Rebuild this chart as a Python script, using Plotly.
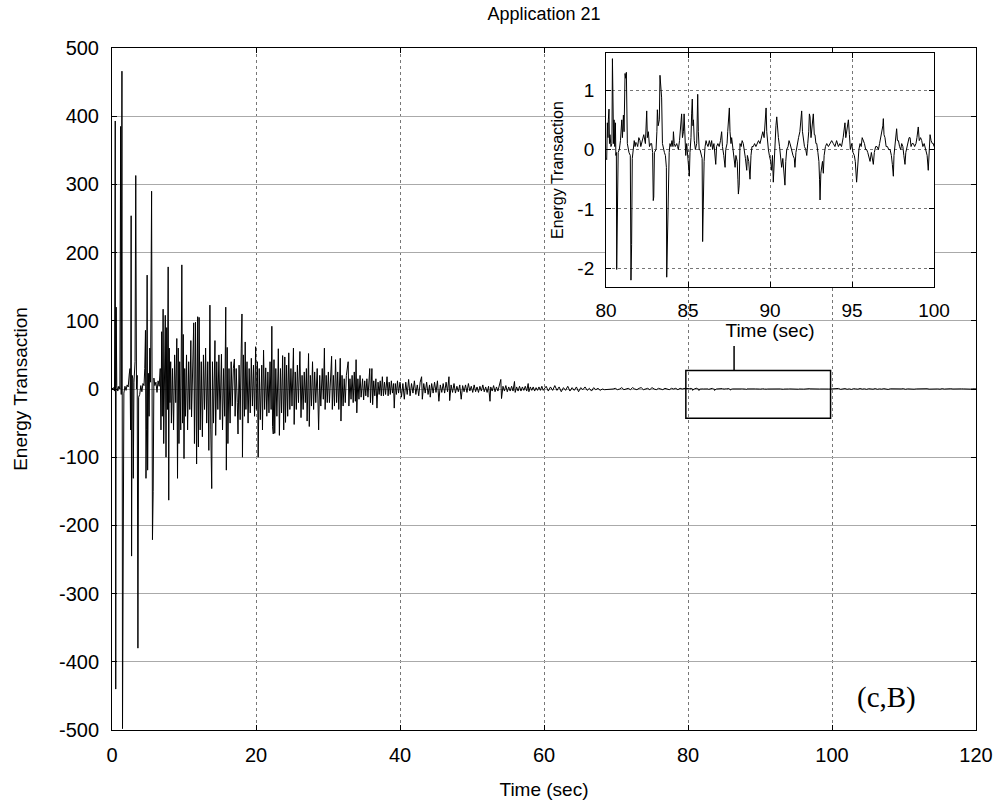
import plotly.graph_objects as go

# ---------------- data ----------------
early_t = [0.00, 0.20, 0.35, 0.45, 0.52, 0.58, 0.66, 0.80, 0.95, 1.10, 1.20, 1.28, 1.38, 1.46, 1.55, 1.65, 1.80, 1.95,
           2.10, 2.25, 2.40, 2.50, 2.58, 2.66, 2.72, 2.80, 2.90, 2.96, 3.05, 3.20, 3.30, 3.40, 3.50, 3.60, 3.70, 3.85,
           4.00, 4.15, 4.30, 4.45, 4.55, 4.65, 4.72, 4.80, 4.88, 4.95, 5.05, 5.15, 5.25, 5.35, 5.50, 5.62, 5.72, 5.82,
           5.95, 6.10, 6.25, 6.40, 6.55, 6.70, 6.80, 6.90, 6.98, 7.10, 7.18, 7.30, 7.40, 7.50, 7.60, 7.70, 7.80, 7.88,
           7.95, 8.05, 8.15, 8.25, 8.40, 8.55, 8.70, 8.85, 9.00, 9.10, 9.20, 9.30, 9.40, 9.55, 9.70, 9.80, 9.90, 10.00,
           10.10, 10.20, 10.35, 10.50, 10.65, 10.80, 10.95, 11.05, 11.20, 11.35, 11.45, 11.60, 11.75, 11.90, 12.00,
           12.10, 12.25, 12.40, 12.55, 12.70, 12.85, 13.00, 13.15, 13.30, 13.45, 13.60, 13.72, 13.85, 13.95, 14.10,
           14.30, 14.40, 14.55, 14.70, 14.85, 15.00, 15.20, 15.35, 15.50, 15.65, 15.80, 15.88, 16.00, 16.10, 16.25,
           16.40, 16.55, 16.70, 16.85, 17.00, 17.10, 17.25, 17.40, 17.50, 17.65, 17.80, 17.95, 18.05, 18.12, 18.25,
           18.40, 18.50, 18.60, 18.75, 18.90, 19.05, 19.20, 19.35, 19.50, 19.65, 19.80, 19.95, 20.05, 20.20, 20.30,
           20.45, 20.60, 20.80, 20.90, 21.05, 21.20, 21.35, 21.50, 21.65, 21.80, 21.95, 22.10, 22.20, 22.30, 22.40,
           22.50, 22.60, 22.75, 22.90, 23.05, 23.10, 23.25, 23.40, 23.55, 23.70, 23.85, 24.00, 24.10, 24.25, 24.40,
           24.55, 24.70, 24.85, 25.00, 25.20, 25.30, 25.45, 25.60, 25.75, 25.90, 26.10, 26.25, 26.40, 26.55, 26.70,
           26.85, 27.00, 27.10, 27.30, 27.40, 27.55, 27.70, 27.85, 28.00, 28.15, 28.30, 28.50, 28.70, 28.85, 29.00,
           29.20, 29.35, 29.50, 29.60, 29.75, 29.90, 30.05, 30.20, 30.35, 30.50, 30.60, 30.75, 30.90, 31.05, 31.20,
           31.35, 31.50, 31.70, 31.80, 31.95, 32.10, 32.25, 32.40, 32.55, 32.80, 32.90, 33.05, 33.20, 33.35, 33.50,
           33.65, 33.80, 33.90, 34.00, 34.15, 34.30, 34.45, 34.60, 34.80, 34.95, 35.10, 35.25, 35.40, 35.55, 35.80,
           35.90, 36.10, 36.20, 36.35, 36.50, 36.65, 36.80, 36.95, 37.10, 37.25, 37.40, 37.55, 37.70, 37.85, 38.00,
           38.20, 38.35, 38.50, 38.65, 38.80, 38.95, 39.10, 39.20, 39.35, 39.50, 39.65, 39.80]
early_v = [0, 2, -3, 393, -440, 120, 5, -3, 4, 0, 385, -8, 466, -498, -12, -6, 4, -2,
           6, 3, 22, 30, -60, 254, -245, 20, 15, -131, 10, 40, 313, 0, 20, -380, -12, -8,
           5, -4, 8, 5, 30, 86, -131, -60, 167, -119, 23, -40, 60, 10, 290, -221, -150, 16,
           5, 10, -5, 12, 4, 30, -60, 84, -40, 117, -80, 60, 108, -100, 90, -30, 179, -163,
           60, -20, 40, -50, 30, -60, 50, -20, 74, -131, 60, -80, 40, -60, 182, -50, 80, -102,
           30, -40, 50, -60, 40, -30, 71, -41, 60, 97, -80, 98, -110, 106, -85,
           105, -60, 40, -70, 50, -30, 60, -50, 40, -90, 123, -60, -146, 40, -50,
           71, -68, 40, -30, 50, -45, 51, -60, 30, -40, 120, -119, 61, -80, 30,
           -50, 40, -25, 30, 44, -40, 30, -20, -66, 35, -45, 60, 110, -100, 50,
           -40, 69, -30, 40, -50, 30, -35, 45, -25, 35, -40, 62, -30, 40, -100,
           30, -45, 35, -60, 57, -30, 31, -40, 25, -35, 40, -30, 92, -55, -66,
           43, -65, 30, -40, 25, 59, -68, 30, -35, 49, -60, 47, -49, 35, -40,
           53, -30, 30, -25, 60, -52, 25, -30, 35, -20, 55, -42, 20, -30, 25,
           -20, 30, -47, 52, -55, 20, -25, 40, -30, 25, -20, 30, -60, 20, -25,
           30, -15, 60, -30, 20, -20, 25, -20, 15, 48, -30, 20, -25, 43, -20,
           25, -30, 45, -47, 20, -25, 15, -20, 20, 40, -25, 15, -15, 20, -20,
           25, -18, 43, -35, 15, -15, 20, -12, 15, -16, 12, -10, 15, -12, 30,
           -20, 30, -23, 12, -10, 15, -28, 10, -8, 12, -10, 18, -10, 10, -8,
           18, -10, 10, -8, 12, -6, 8, -28, 8, -8, 12, -6]

mid_t = [40.00, 40.20, 40.40, 40.60, 40.80, 41.00, 41.20, 41.40, 41.60, 41.80, 42.00, 42.20, 42.40, 42.60, 42.80,
         43.00, 43.10, 43.30, 43.50, 43.70, 43.90, 44.10, 44.20, 44.40, 44.60, 44.80, 45.00, 45.20, 45.40, 45.60,
         45.80, 46.00, 46.20, 46.40, 46.60, 46.80, 46.90, 47.10, 47.30, 47.50, 47.70, 47.90, 48.10, 48.30, 48.50,
         48.70, 48.90, 49.10, 49.30, 49.50, 49.70, 49.90, 50.10, 50.30, 50.50, 50.70, 50.90, 51.10, 51.30, 51.50,
         51.70, 51.90, 52.10, 52.30, 52.50, 52.60, 52.80, 53.00, 53.20, 53.40, 53.60, 53.80, 54.00, 54.10, 54.30,
         54.50, 54.70, 54.90, 55.10, 55.30, 55.50, 55.70, 55.90, 56.00, 56.20, 56.40, 56.60, 56.80, 57.00, 57.20,
         57.40, 57.60, 57.80, 57.90, 58.10, 58.30, 58.50, 58.70, 58.90, 59.10, 59.30, 59.50, 59.70, 59.90,
         60.30, 60.60, 60.90, 61.20, 61.50, 61.80, 62.10, 62.40, 62.70, 63.00, 63.30, 63.60, 63.90, 64.20, 64.50,
         64.80, 65.10, 65.40, 65.70, 66.00, 66.30, 66.60, 66.90, 67.20, 67.50, 67.80, 68.10, 68.40, 68.70, 69.00,
         69.30, 69.60, 69.90, 70.20, 70.50, 70.80, 71.10, 71.40, 71.70, 72.00, 72.30, 72.60, 72.90, 73.20, 73.50,
         73.80, 74.10, 74.40, 74.70, 75.00, 75.30, 75.60, 75.90, 76.20, 76.50, 76.80, 77.10, 77.40, 77.70, 78.00,
         78.30, 78.60, 78.90, 79.20, 79.60]
mid_v = [10, -12, 8, -15, 10, -8, 14, -10, 8, -6, 12, -8, 6, -10, 10,
         18, -15, 8, -6, 10, -8, 6, -12, 8, -6, 10, -5, 12, -18, 6,
         -5, 8, -6, 10, -4, 18, -17, 6, -5, 8, -6, 4, -4, 6, -15,
         5, -4, 6, -5, 8, -3, 4, -5, 6, -4, 3, -5, 4, -3, 6,
         -4, 3, -5, 4, -18, 3, -3, 5, -4, 3, -3, 4, 14, -14, 4,
         -3, 5, -4, 3, -3, 4, -3, 11, -5, 3, -3, 4, -3, 3, -2,
         4, -3, 8, -4, 3, -2, 3, -3, 2, -2, 3, -2, 4, -2,
         4, -3, 3, -2, 5, -2, 3, -4, 2, -2, 4, -3, 2, -2, 3,
         -4, 2, -1, 3, -2, 1, -3, 2, -1, 1, -2, 0, -1, -1, 0,
         -1, 0, 1, -1, 0, 2, -1, 0, 1, -1, 2, 0, -1, 1, 2,
         -1, 0, 1, -1, 2, 0, -1, 1, 0, -1, 1, 0, -1, 1, 0,
         1, -1, 1, 0, 1]

inset_t = [80.00, 80.04, 80.08, 80.12, 80.14, 80.18, 80.21, 80.24, 80.30, 80.36, 80.39, 80.42, 80.46, 80.49, 80.53,
           80.57, 80.60, 80.63, 80.65, 80.68, 80.71, 80.74, 80.81, 80.88, 80.96, 81.00, 81.06, 81.10, 81.16, 81.20,
           81.24, 81.27, 81.30, 81.40, 81.48, 81.52, 81.56, 81.60, 81.64, 81.67, 81.72, 81.77, 81.82, 81.87, 81.93,
           82.00, 82.07, 82.12, 82.20, 82.30, 82.40, 82.45, 82.48, 82.52, 82.58, 82.65, 82.72, 82.78, 82.84, 82.88,
           82.91, 82.95, 83.05, 83.10, 83.13, 83.18, 83.25, 83.29, 83.35, 83.39, 83.44, 83.50, 83.56, 83.62, 83.68,
           83.70, 83.74, 83.80, 83.85, 83.90, 83.96, 84.02, 84.08, 84.11, 84.16, 84.22, 84.31, 84.36, 84.41, 84.48,
           84.55, 84.61, 84.66, 84.72, 84.76, 84.80, 84.86, 84.92, 85.00, 85.08, 85.12, 85.18, 85.22, 85.26, 85.30,
           85.33, 85.38, 85.45, 85.53, 85.56, 85.59, 85.63, 85.68, 85.73, 85.80, 85.86, 85.89, 85.93, 85.98, 86.04,
           86.10, 86.14, 86.22, 86.30, 86.38, 86.44, 86.50, 86.58, 86.64, 86.69, 86.74, 86.82, 86.90, 86.98, 87.05,
           87.10, 87.18, 87.26, 87.30, 87.38, 87.42, 87.46, 87.52, 87.56, 87.62, 87.66, 87.72, 87.80, 87.87, 87.92,
           88.00, 88.04, 88.07, 88.12, 88.17, 88.24, 88.30, 88.37, 88.44, 88.50, 88.58, 88.62, 88.70, 88.78, 88.84,
           88.90, 88.98, 89.06, 89.14, 89.22, 89.30, 89.39, 89.48, 89.56, 89.64, 89.70, 89.76, 89.80, 89.86, 89.90,
           89.96, 90.04, 90.10, 90.15, 90.20, 90.26, 90.32, 90.36, 90.41, 90.46, 90.51, 90.58, 90.64, 90.71, 90.78,
           90.85, 90.91, 90.96, 91.02, 91.10, 91.16, 91.22, 91.30, 91.40, 91.48, 91.52, 91.58, 91.66, 91.74, 91.82,
           91.88, 91.93, 91.98, 92.03, 92.10, 92.18, 92.24, 92.30, 92.36, 92.40, 92.44, 92.50, 92.56, 92.60, 92.64,
           92.70, 92.74, 92.80, 92.85, 92.92, 92.98, 93.02, 93.05, 93.10, 93.15, 93.20, 93.25, 93.30, 93.38, 93.46,
           93.56, 93.66, 93.76, 93.86, 93.96, 94.06, 94.17, 94.26, 94.36, 94.46, 94.52, 94.57, 94.62, 94.70, 94.78,
           94.84, 94.90, 94.98, 95.06, 95.14, 95.20, 95.28, 95.34, 95.42, 95.49, 95.56, 95.62, 95.69, 95.76, 95.83,
           95.89, 95.96, 96.03, 96.10, 96.18, 96.24, 96.30, 96.36, 96.44, 96.52, 96.61, 96.68, 96.76, 96.82, 96.88,
           96.91, 96.95, 97.01, 97.08, 97.16, 97.24, 97.32, 97.40, 97.46, 97.52, 97.56, 97.62, 97.67, 97.72, 97.77,
           97.83, 97.90, 97.97, 98.03, 98.10, 98.16, 98.23, 98.28, 98.35, 98.42, 98.48, 98.54, 98.60, 98.66, 98.74,
           98.82, 98.90, 98.96, 99.00, 99.04, 99.10, 99.18, 99.25, 99.32, 99.40, 99.45, 99.52, 99.58, 99.65, 99.70,
           99.76, 99.82, 99.90, 99.96, 100.00]
inset_v = [-0.15, -0.17, 0.45, 0.2, 0.5, 0.68, 0.1, 0.25, 0.05, 0.1, 1.53, 0.3, 0.1, 0.5, 0.05,
           0.45, -0.1, -0.05, -2.02, -1.2, -0.9, -0.05, 0.0, 0.15, 0.5, 0.2, 0.58, 0.3, 1.28, 1.2,
           1.3, 0.4, 0.1, -0.05, -0.1, -2.2, -1.6, -0.15, -0.05, 0.05, 0.15, 0.05, 0.12, 0.1, 0.05,
           0.2, 0.15, 0.05, 0.15, 0.25, 0.1, 0.4, 0.65, 0.2, 0.3, 0.05, 0.1, 0.1, -0.05, -0.86,
           -0.8, -0.05, 0.0, 0.3, 0.67, 0.4, 0.5, 1.25, 0.95, 0.87, 0.1, 0.0, -0.05, -0.1, -0.3,
           -2.15, -1.5, -0.35, -0.05, 0.1, 0.05, 0.15, 0.05, 0.3, 0.1, 0.05, 0.1, 0.05, 0.0, 0.15,
           0.35, 0.6, 0.2, 0.3, 0.6, 0.1, -0.1, 0.1, -0.15, -0.45, -0.05, 0.2, 0.6, 0.85, 0.4,
           0.5, 0.15, 0.0, 0.1, 0.4, 0.93, 0.3, 0.0, 0.0, -0.1, -0.15, -1.55, -0.9, -0.2, 0.05,
           0.15, 0.1, 0.05, 0.15, 0.05, 0.15, 0.0, 0.1, -0.1, -0.25, 0.05, 0.1, 0.05, 0.15, 0.3,
           0.05, -0.1, -0.3, 0.0, 0.1, 0.3, 0.55, 0.7, 0.3, 0.1, 0.2, 0.05, -0.1, -0.3, -0.1,
           -0.2, -0.5, -0.75, -0.6, 0.1, 0.05, 0.15, 0.1, 0.0, -0.15, -0.35, -0.1, -0.2, -0.5, -0.1,
           0.05, 0.05, 0.1, 0.05, 0.1, 0.15, 0.1, 0.2, 0.3, 0.2, 0.45, 0.7, 0.3, 0.05, 0.0,
           -0.1, -0.2, -0.35, -0.1, -0.55, -0.1, 0.2, 0.4, 0.55, 0.25, 0.2, 0.05, -0.1, -0.3, -0.15,
           -0.35, -0.6, -0.2, 0.0, 0.05, 0.15, 0.1, 0.0, -0.1, -0.15, -0.3, -0.05, 0.1, 0.2, 0.3,
           0.45, 0.65, 0.3, 0.2, 0.05, 0.0, -0.1, 0.1, 0.3, 0.6, 0.55, 0.2, 0.4, 0.6, 0.6,
           0.25, 0.25, 0.1, 0.1, -0.05, -0.2, -0.5, -0.85, -0.4, -0.3, -0.2, -0.4, -0.1, 0.05, 0.1,
           0.05, 0.1, 0.15, 0.1, 0.05, 0.15, 0.05, 0.1, 0.05, 0.2, 0.3, 0.45, 0.2, 0.35, 0.5,
           0.25, 0.0, 0.1, -0.05, -0.1, -0.2, -0.55, -0.3, 0.0, 0.1, 0.05, 0.2, 0.15, 0.1, 0.0,
           0.0, -0.05, -0.15, -0.2, -0.05, -0.15, -0.25, -0.05, 0.05, 0.05, 0.0, 0.1, 0.2, 0.3, 0.4,
           0.52, 0.25, 0.2, 0.05, 0.05, 0.0, 0.0, -0.1, -0.25, -0.45, -0.1, 0.05, 0.2, 0.35, 0.15,
           0.15, 0.05, 0.0, 0.1, 0.05, -0.1, -0.25, -0.05, 0.05, 0.1, 0.2, 0.2, 0.05, 0.1, 0.1,
           0.05, 0.1, 0.2, 0.3, 0.38, 0.15, 0.2, 0.15, 0.05, 0.1, 0.05, 0.0, -0.1, -0.35, 0.0,
           0.25, 0.15, 0.1, 0.1, 0.05]

late_t = [100.3, 100.6, 100.9, 101.2, 101.5, 101.8, 102.1, 102.4, 102.7, 103.0, 103.3, 103.6, 103.9, 104.2, 104.5,
          104.8, 105.1, 105.4, 105.7, 106.0, 106.3, 106.6, 106.9, 107.2, 107.5, 107.8, 108.1, 108.4, 108.7, 109.0,
          109.3, 109.6, 109.9, 110.2, 110.5, 110.8, 111.1, 111.4, 111.7, 112.0, 112.3, 112.6, 112.9, 113.2, 113.5,
          113.8, 114.1, 114.4, 114.7, 115.0, 115.3, 115.6, 115.9, 116.2, 116.5, 116.8, 117.1, 117.4, 117.7, 118.0,
          118.3, 118.6, 118.9, 119.2, 119.5, 119.8, 120.0]
late_v = [0.4, -0.3, 0.8, -0.5, 0.3, 0.6, -0.4, 0.2, -0.6, 0.5, 0.1, -0.3, 0.7, -0.2, 0.3,
          -0.5, 0.4, 0.0, -0.3, 0.6, -0.4, 0.2, -0.2, 0.5, 0.1, -0.6, 0.3, 0.2, -0.3, 0.4,
          -0.2, 0.1, 0.5, -0.4, 0.2, -0.1, 0.4, -0.3, 0.1, 0.3, -0.5, 0.2, 0.0, 0.4, -0.2,
          0.1, -0.4, 0.3, 0.1, -0.3, 0.5, -0.1, 0.2, -0.3, 0.4, 0.0, -0.2, 0.3, -0.4, 0.2,
          0.1, -0.3, 0.4, -0.2, 0.3, -0.1, 0.2]

main_xticks = [0, 20, 40, 60, 80, 100, 120]
main_yticks = [-500, -400, -300, -200, -100, 0, 100, 200, 300, 400, 500]
inset_xticks = [80, 85, 90, 95, 100]
inset_yticks = [-2, -1, 0, 1]

main_xrange = [0, 120]
main_yrange = [-500, 500]
inset_xrange = [80, 100]
inset_yrange = [-2.31, 1.62]

zoom_box = dict(t0=79.7, t1=99.8, v0=-43, v1=27)
connector = dict(t=86.4, v0=27, v1=63)

# ---------------- figure ----------------
FONT = "Liberation Sans, Arial, sans-serif"

main_t = early_t + mid_t + inset_t + late_t
main_v = early_v + mid_v + inset_v + late_v


def labels(vals):
    # MATLAB-style labels with a plain hyphen for negatives
    return [str(v) for v in vals]


fig = go.Figure()
fig.add_trace(go.Scatter(x=main_t, y=main_v, mode="lines",
                         line=dict(color="black", width=1), xaxis="x", yaxis="y",
                         showlegend=False, hoverinfo="skip"))
fig.add_trace(go.Scatter(x=inset_t, y=inset_v, mode="lines",
                         line=dict(color="black", width=1), xaxis="x2", yaxis="y2",
                         showlegend=False, hoverinfo="skip"))

axis_common = dict(showline=True, linecolor="black", linewidth=1, mirror="allticks",
                   ticks="inside", ticklen=5, tickcolor="black", zeroline=False,
                   showgrid=True)

fig.update_layout(
    width=1008, height=811,
    margin=dict(l=112, r=32, t=48, b=81),
    paper_bgcolor="white", plot_bgcolor="white",
    font=dict(family=FONT, color="black"),
    title=dict(text="Application 21", x=0.5, xref="paper", xanchor="center",
               y=1 - 14 / 811, yref="container", yanchor="middle",
               font=dict(size=18, family=FONT, color="black")),
    xaxis=dict(domain=[0, 1], range=main_xrange, tickvals=main_xticks, ticktext=labels(main_xticks),
               gridcolor="#777777", griddash="dot", gridwidth=1,
               tickfont=dict(size=20), anchor="y", ticklabelstandoff=7,
               title=dict(text="Time (sec)", font=dict(size=19), standoff=17),
               **axis_common),
    yaxis=dict(domain=[0, 1], range=main_yrange, tickvals=main_yticks, ticktext=labels(main_yticks),
               gridcolor="#aaaaaa", griddash="solid", gridwidth=1,
               tickfont=dict(size=20), anchor="x", ticklabelstandoff=8,
               title=dict(text="Energy Transaction", font=dict(size=19), standoff=26),
               **axis_common),
    xaxis2=dict(domain=[0.5718, 0.9514], range=inset_xrange, tickvals=inset_xticks,
                ticktext=labels(inset_xticks),
                gridcolor="#777777", griddash="dot", gridwidth=1,
                tickfont=dict(size=19), anchor="y2", ticklabelstandoff=6,
                title=dict(text="Time (sec)", font=dict(size=19), standoff=4),
                **axis_common),
    yaxis2=dict(domain=[0.650, 0.9922], range=inset_yrange, tickvals=inset_yticks,
                ticktext=labels(inset_yticks),
                gridcolor="#777777", griddash="dot", gridwidth=1,
                tickfont=dict(size=19), anchor="x2", ticklabelstandoff=7,
                title=dict(text="Energy Transaction", font=dict(size=16), standoff=9),
                **axis_common),
)

# white panel behind the inset (drawn in the inset subplot layer, above the main grid)
fig.add_shape(type="rect", xref="x2", yref="y2", layer="below",
              x0=inset_xrange[0], x1=inset_xrange[1], y0=inset_yrange[0], y1=inset_yrange[1],
              fillcolor="white", line=dict(width=0))

# zoom rectangle and connector on the main axes
fig.add_shape(type="rect", xref="x", yref="y", layer="above",
              x0=zoom_box["t0"], x1=zoom_box["t1"], y0=zoom_box["v0"], y1=zoom_box["v1"],
              line=dict(color="black", width=1.5))
fig.add_shape(type="line", xref="x", yref="y", layer="above",
              x0=connector["t"], x1=connector["t"], y0=connector["v0"], y1=connector["v1"],
              line=dict(color="black", width=1.5))

fig.add_annotation(text="(c,B)", xref="x", yref="y", x=107.6, y=-453,
                   showarrow=False, xanchor="center", yanchor="middle",
                   font=dict(family="Liberation Serif, Times New Roman, serif", size=29, color="black"))

fig.write_html("out.html")
